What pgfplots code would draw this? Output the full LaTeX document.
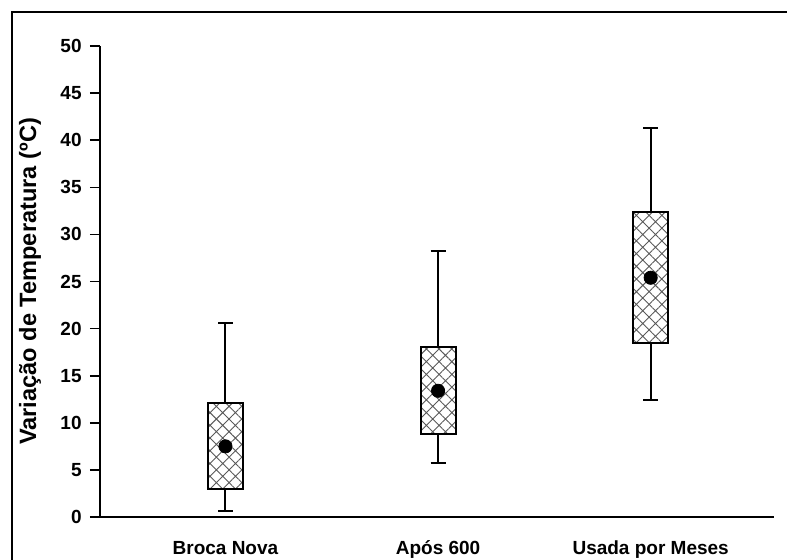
\documentclass[border=0pt]{standalone}
\usepackage{fontspec}
\setmainfont{Liberation Sans}
\usepackage{pgfplots}
\pgfplotsset{compat=1.18}
\usepgfplotslibrary{statistics}
\usetikzlibrary{patterns.meta}
\begin{document}
\begin{tikzpicture}
\begin{axis}[
  scale only axis, width=337pt, height=235.5pt,
  xmin=0.41, xmax=3.58, ymin=0, ymax=50,
  axis x line*=bottom, axis y line*=left,
  axis line style={line width=1pt, black},
  ytick={0,5,...,50}, xtick={1,2,3},
  xticklabels={Broca Nova, Após 600, Usada por Meses},
  xtick style={draw=none},
  ytick style={line width=0.8pt, black},
  tick align=outside, major tick length=5pt,
  /pgf/number format/assume math mode=true,
  tick label style={font=\fontsize{9.5}{10}\selectfont\bfseries},
  xticklabel style={anchor=base, yshift=-13.5pt},
  yticklabel style={anchor=east, inner sep=0pt, xshift=-4pt},
  ylabel={Variação de Temperatura (ºC)},
  every axis y label/.style={at={(axis description cs:-0.104,0.5)}, rotate=90, anchor=center, font=\fontsize{11.8}{13}\selectfont\bfseries},
  clip=false,
  boxplot/draw direction=y,
]
\addplot[boxplot prepared={draw position=1, lower whisker=0.6, lower quartile=3.0, median=7.5, upper quartile=12.1, upper whisker=20.6, box extend=0.165, whisker extend=0.07},
  draw=black, line width=1pt,
  boxplot/every box/.style={pattern={Hatch[angle=45,distance=4.5pt,line width=0.45pt]}, pattern color=black!65},
  boxplot/every median/.style={draw=none}] coordinates {};
\addplot[boxplot prepared={draw position=2, lower whisker=5.7, lower quartile=8.8, median=13.4, upper quartile=18.0, upper whisker=28.2, box extend=0.165, whisker extend=0.07},
  draw=black, line width=1pt,
  boxplot/every box/.style={pattern={Hatch[angle=45,distance=4.5pt,line width=0.45pt]}, pattern color=black!65},
  boxplot/every median/.style={draw=none}] coordinates {};
\addplot[boxplot prepared={draw position=3, lower whisker=12.4, lower quartile=18.5, median=25.4, upper quartile=32.4, upper whisker=41.3, box extend=0.165, whisker extend=0.07},
  draw=black, line width=1pt,
  boxplot/every box/.style={pattern={Hatch[angle=45,distance=4.5pt,line width=0.45pt]}, pattern color=black!65},
  boxplot/every median/.style={draw=none}] coordinates {};
\addplot[only marks, mark=*, mark size=3.3pt, black] coordinates {(1,7.5) (2,13.4) (3,25.4)};
\end{axis}
\draw[line width=1pt] (-44pt,-40pt) -- (-44pt,252.5pt) -- (360pt,252.5pt);
\pgfresetboundingbox
\useasboundingbox (-50pt,-21pt) rectangle (343.5pt,258.5pt);
\end{tikzpicture}
\end{document}
